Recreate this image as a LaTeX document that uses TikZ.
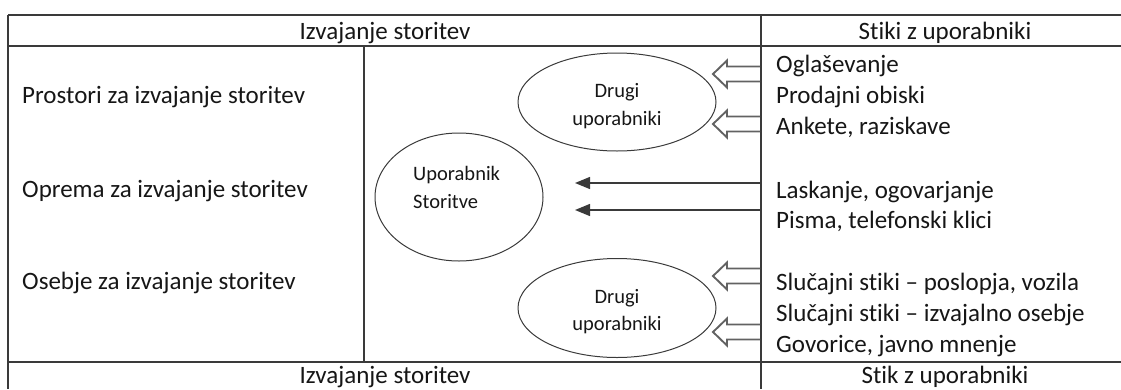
\documentclass[tikz,border=0pt]{standalone}
\usepackage{fontspec}
\setmainfont{Carlito}[Ligatures={NoCommon}]
\usetikzlibrary{shapes.geometric,arrows.meta}
\definecolor{rule}{HTML}{3A3A3A}
\definecolor{ink}{HTML}{161616}
\definecolor{arrowgray}{HTML}{626262}
\tikzset{
  x=1pt, y=-1pt,
  frame/.style={draw=rule, line width=1.3pt},
  hframe/.style={draw=rule, line width=1.8pt},
  bigtxt/.style={inner sep=0pt, text=ink, font=\fontsize{25}{30}\selectfont},
  smalltxt/.style={inner sep=0pt, text=ink, font=\fontsize{20.5}{28}\selectfont},
  oval/.style={draw=rule, line width=1pt, ellipse, inner sep=0pt},
  flow/.style={draw=rule, line width=1.3pt, -{Triangle[length=15pt,width=12pt]}},
  hollow arrow/.pic={
    \draw[arrowgray, line width=1.9pt, line join=miter]
      (0,-7.5) -- (-33,-7.5) -- (-33,-13.5) -- (-47,0) -- (-33,13.5) -- (-33,7.5) -- (0,7.5);
  }
}
\begin{document}
\begin{tikzpicture}
\useasboundingbox (0,0) rectangle (1121,389);

% table frame
\draw[hframe] (8,15) -- (1121,15);
\draw[hframe] (8,46) -- (1121,46);
\draw[hframe] (8,362) -- (1121,362);
\draw[frame] (8,15) -- (8,389);
\draw[frame] (761,15) -- (761,389);
\draw[frame] (364,46) -- (364,362);

% header and footer texts
\node[bigtxt, anchor=base] (h1) at (385,39) {Izvajanje storitev};
\node[bigtxt, anchor=base] (h2) at (945,39) {Stiki z uporabniki};
\node[bigtxt, anchor=base] (f1) at (385,383) {Izvajanje storitev};
\node[bigtxt, anchor=base] (f2) at (945,383) {Stik z uporabniki};

% left column
\node[bigtxt, anchor=base west] (l1) at (22,103) {Prostori za izvajanje storitev};
\node[bigtxt, anchor=base west] (l2) at (22,197) {Oprema za izvajanje storitev};
\node[bigtxt, anchor=base west] (l3) at (22,289) {Osebje za izvajanje storitev};

% right column
\node[bigtxt, anchor=base west] (r1) at (776,72) {Oglaševanje};
\node[bigtxt, anchor=base west] (r2) at (776,103) {Prodajni obiski};
\node[bigtxt, anchor=base west] (r3) at (776,134) {Ankete, raziskave};
\node[bigtxt, anchor=base west] (r4) at (776,198) {Laskanje, ogovarjanje};
\node[bigtxt, anchor=base west] (r5) at (776,228) {Pisma, telefonski klici};
\node[bigtxt, anchor=base west] (r6) at (776,290) {Slučajni stiki – poslopja, vozila};
\node[bigtxt, anchor=base west] (r7) at (776,321) {Slučajni stiki – izvajalno osebje};
\node[bigtxt, anchor=base west] (r8) at (776,352) {Govorice, javno mnenje};

% ellipses
\node[oval, minimum width=198pt, minimum height=98pt] (d1) at (617,102) {};
\node[oval, minimum width=168pt, minimum height=128pt] (u) at (459,197) {};
\node[oval, minimum width=198pt, minimum height=99pt] (d2) at (617,308) {};

\node[smalltxt, anchor=base] (d1a) at (617,97) {Drugi};
\node[smalltxt, anchor=base] (d1b) at (617,125) {uporabniki};
\node[smalltxt, anchor=base west] (ua) at (413,180) {Uporabnik};
\node[smalltxt, anchor=base west] (ub) at (413,208) {Storitve};
\node[smalltxt, anchor=base] (d2a) at (617,303) {Drugi};
\node[smalltxt, anchor=base] (d2b) at (617,330) {uporabniki};

% hollow arrows into the "Drugi uporabniki" ovals
\pic at (760,74) {hollow arrow};
\pic at (760,124) {hollow arrow};
\pic at (760,276) {hollow arrow};
\pic at (760,332) {hollow arrow};

% direct contacts towards the service user
\coordinate (s1) at (761,183);
\coordinate (t1) at (575,183);
\coordinate (s2) at (761,210);
\coordinate (t2) at (575,210);
\draw[flow] (s1) -- (t1);
\draw[flow] (s2) -- (t2);
\end{tikzpicture}
\end{document}
